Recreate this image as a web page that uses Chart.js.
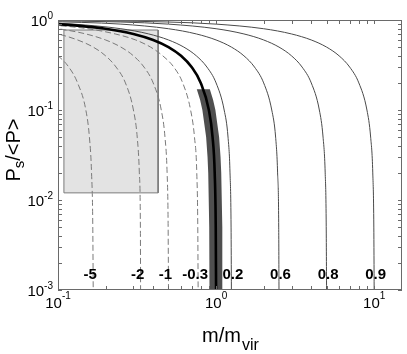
<!DOCTYPE html>
<html lang="en">
<head>
    <meta charset="UTF-8">
    <title>Ps/&lt;P&gt; vs m/mvir</title>
    <script src="https://cdn.jsdelivr.net/npm/chart.js"></script>
    <style>
        body {
            margin: 0;
            background: #fff;
        }
        #wrap {
            width: 407px;
            height: 354px;
        }
    </style>
</head>
<body>
    <div id="wrap"><canvas id="massChart" width="407" height="354"></canvas></div>

    <script>
        // curve labels, left to right
        const curveLabels = ['-5', '-2', '-1', '-0.3', '0.2', '0.6', '0.8', '0.9'];

        // points: [m/mvir, Ps/<P>]
        const curveM5  = [[0.08, 0.52], [0.1, 0.4], [0.117, 0.3], [0.133, 0.2], [0.15, 0.1], [0.158, 0.05], [0.163, 0.02], [0.166, 0.005], [0.167, 0.001]];
        const curveM2  = [[0.08, 0.76], [0.1, 0.7], [0.133, 0.6], [0.167, 0.5], [0.2, 0.4], [0.233, 0.3], [0.267, 0.2], [0.3, 0.1], [0.317, 0.05], [0.327, 0.02], [0.332, 0.005], [0.333, 0.001]];
        const curveM1  = [[0.08, 0.84], [0.1, 0.8], [0.15, 0.7], [0.2, 0.6], [0.25, 0.5], [0.3, 0.4], [0.35, 0.3], [0.4, 0.2], [0.45, 0.1], [0.475, 0.05], [0.49, 0.02], [0.497, 0.006], [0.5, 0.001]];
        const curveM03 = [[0.08, 0.9], [0.154, 0.8], [0.23, 0.7], [0.31, 0.6], [0.385, 0.5], [0.46, 0.4], [0.54, 0.3], [0.615, 0.2], [0.69, 0.1], [0.73, 0.05], [0.755, 0.02], [0.766, 0.005], [0.77, 0.001]];
        const curveP02 = [[0.08, 0.936], [0.125, 0.9], [0.25, 0.8], [0.375, 0.7], [0.5, 0.6], [0.625, 0.5], [0.75, 0.4], [0.875, 0.3], [1.0, 0.2], [1.125, 0.1], [1.19, 0.05], [1.225, 0.02], [1.244, 0.005], [1.25, 0.001]];
        const curveP06 = [[0.08, 0.968], [0.25, 0.9], [0.5, 0.8], [0.75, 0.7], [1.0, 0.6], [1.25, 0.5], [1.5, 0.4], [1.75, 0.3], [2.0, 0.2], [2.25, 0.1], [2.38, 0.05], [2.45, 0.02], [2.49, 0.005], [2.5, 0.001]];
        const curveP08 = [[0.08, 0.984], [0.25, 0.95], [0.5, 0.9], [1.0, 0.8], [1.5, 0.7], [2.0, 0.6], [2.5, 0.5], [3.0, 0.4], [3.5, 0.3], [4.0, 0.2], [4.5, 0.1], [4.75, 0.05], [4.9, 0.02], [4.97, 0.006], [5.0, 0.001]];
        const curveP09 = [[0.08, 0.992], [0.5, 0.95], [1.0, 0.9], [2.0, 0.8], [3.0, 0.7], [4.0, 0.6], [5.0, 0.5], [6.0, 0.4], [7.0, 0.3], [8.0, 0.2], [9.0, 0.1], [9.5, 0.05], [9.8, 0.02], [9.95, 0.005], [10.0, 0.001]];
        const fiducial = [[0.08, 0.92], [0.1, 0.9], [0.2, 0.8], [0.3, 0.7], [0.4, 0.6], [0.5, 0.5], [0.6, 0.4], [0.7, 0.3], [0.8, 0.2], [0.9, 0.1], [0.95, 0.05], [0.98, 0.02], [0.995, 0.005], [1.0, 0.001]];

        // dark band edges (top to bottom)
        const bandLeft  = [[0.755, 0.17], [0.792, 0.13], [0.819, 0.1], [0.865, 0.05], [0.883, 0.03], [0.892, 0.02], [0.905, 0.005], [0.91, 0.0005]];
        const bandRight = [[0.913, 0.17], [0.957, 0.13], [0.99, 0.1], [1.045, 0.05], [1.067, 0.03], [1.078, 0.02], [1.095, 0.005], [1.1, 0.0005]];

        // shaded box
        const boxX = [0.109, 0.43];
        const boxY = [0.012, 0.774];

        // axis ticks
        const xTicks = [0.1, 1, 10];
        const xTickExp = ['-1', '0', '1'];
        const yTicks = [0.001, 0.01, 0.1, 1];
        const yTickExp = ['-3', '-2', '-1', '0'];

        const dashedCurves = [curveM5, curveM2, curveM1, curveM03];
        const solidCurves = [curveP02, curveP06, curveP08, curveP09];
        const allCurves = dashedCurves.concat(solidCurves);

        const FONT = '"Liberation Sans", Arial, sans-serif';
        const toXY = arr => arr.map(p => ({ x: p[0], y: p[1] }));

        const band = bandLeft.concat(bandRight.slice().reverse());
        const box = [[boxX[0], boxY[0]], [boxX[0], boxY[1]], [boxX[1], boxY[1]], [boxX[1], boxY[0]], [boxX[0], boxY[0]]];

        const datasets = [];
        datasets.push({ data: toXY(fiducial), borderColor: '#000', borderWidth: 2.6, cubicInterpolationMode: 'monotone' });
        solidCurves.forEach(c => datasets.push({ data: toXY(c), borderColor: '#4a4a4a', borderWidth: 1, cubicInterpolationMode: 'monotone' }));
        dashedCurves.forEach(c => datasets.push({ data: toXY(c), borderColor: '#7a7a7a', borderWidth: 1, borderDash: [6, 3], cubicInterpolationMode: 'monotone' }));
        datasets.push({ data: toXY(band), borderWidth: 0, borderColor: 'rgba(0,0,0,0)', backgroundColor: '#4f4f4f', fill: 'shape', tension: 0 });
        datasets.push({ data: toXY(box), borderWidth: 1, borderColor: '#7a7a7a', backgroundColor: '#e3e3e3', fill: 'shape', tension: 0 });

        // drawing the MATLAB-style box, inward ticks and labels
        const axesDecor = {
            id: 'axesDecor',
            afterDatasetsDraw(chart) {
                const { ctx, chartArea: a, scales: { x, y } } = chart;
                ctx.save();

                ctx.strokeStyle = '#6a6a6a';
                ctx.lineWidth = 1;
                ctx.strokeRect(a.left + 0.5, a.top + 0.5, a.right - a.left - 1, a.bottom - a.top - 1);

                const tl = 4;
                ctx.beginPath();
                xTicks.forEach(d => {
                    for (let k = 1; k <= 9; k++) {
                        const v = k * d;
                        if (v > x.max) break;
                        const px = Math.round(x.getPixelForValue(v)) + 0.5;
                        ctx.moveTo(px, a.bottom); ctx.lineTo(px, a.bottom - tl);
                        ctx.moveTo(px, a.top); ctx.lineTo(px, a.top + tl);
                    }
                });
                yTicks.forEach(d => {
                    for (let k = 1; k <= 9; k++) {
                        const v = k * d;
                        if (v > y.max + 1e-9) break;
                        const py = Math.round(y.getPixelForValue(v)) + 0.5;
                        ctx.moveTo(a.left, py); ctx.lineTo(a.left + tl, py);
                        ctx.moveTo(a.right, py); ctx.lineTo(a.right - tl, py);
                    }
                });
                ctx.stroke();

                ctx.fillStyle = '#000';
                ctx.textBaseline = 'alphabetic';
                ctx.textAlign = 'left';

                // x tick labels
                xTicks.forEach((v, i) => {
                    const px = x.getPixelForValue(v);
                    ctx.font = '15px ' + FONT;
                    const wb = ctx.measureText('10').width;
                    ctx.font = '10px ' + FONT;
                    const we = ctx.measureText(xTickExp[i]).width;
                    const start = px - (wb + we) / 2;
                    ctx.font = '15px ' + FONT;
                    ctx.fillText('10', start, a.bottom + 18);
                    ctx.font = '10px ' + FONT;
                    ctx.fillText(xTickExp[i], start + wb, a.bottom + 9);
                });

                // y tick labels
                yTicks.forEach((v, i) => {
                    const py = y.getPixelForValue(v);
                    ctx.font = '15px ' + FONT;
                    const wb = ctx.measureText('10').width;
                    ctx.font = '10px ' + FONT;
                    const we = ctx.measureText(yTickExp[i]).width;
                    const start = a.left - 5 - (wb + we);
                    ctx.font = '15px ' + FONT;
                    ctx.fillText('10', start, py + 6);
                    ctx.font = '10px ' + FONT;
                    ctx.fillText(yTickExp[i], start + wb, py - 1);
                });

                // curve labels near the bottom
                ctx.font = 'bold 15px ' + FONT;
                ctx.textAlign = 'center';
                ctx.textBaseline = 'middle';
                allCurves.forEach((c, i) => {
                    const lab = curveLabels[i];
                    const px = x.getPixelForValue(c[c.length - 1][0]) + (lab.startsWith('-') ? -3 : 1.5);
                    ctx.fillText(lab, px, a.bottom - 15);
                });

                // x title m/m_vir
                ctx.textAlign = 'left';
                ctx.textBaseline = 'alphabetic';
                ctx.font = '20px ' + FONT;
                const wm = ctx.measureText('m/m').width;
                ctx.font = '16px ' + FONT;
                const wv = ctx.measureText('vir').width;
                const sx = (a.left + a.right) / 2 - (wm + wv) / 2;
                ctx.font = '20px ' + FONT;
                ctx.fillText('m/m', sx, 342);
                ctx.font = '16px ' + FONT;
                ctx.fillText('vir', sx + wm + 1, 350);

                // y title P_s/<P>
                ctx.font = '20px ' + FONT;
                const wp = ctx.measureText('P').width;
                const wr = ctx.measureText('/<P>').width;
                ctx.font = '15px ' + FONT;
                const ws = ctx.measureText('s').width;
                const total = wp + ws + wr;
                ctx.translate(20, 150 + total / 2);
                ctx.rotate(-Math.PI / 2);
                ctx.font = '20px ' + FONT;
                ctx.fillText('P', 0, 0);
                ctx.font = '15px ' + FONT;
                ctx.fillText('s', wp, 4);
                ctx.font = '20px ' + FONT;
                ctx.fillText('/<P>', wp + ws, 0);

                ctx.restore();
            }
        };

        const chart = document.getElementById('massChart').getContext('2d');
        new Chart(chart, {
            type: 'line',
            data: { datasets: datasets },
            options: {
                responsive: false,
                animation: false,
                layout: { padding: { top: 20, right: 5, left: 0, bottom: 0 } },
                elements: { point: { radius: 0, hoverRadius: 0 } },
                plugins: { legend: { display: false }, tooltip: { enabled: false } },
                scales: {
                    x: {
                        type: 'logarithmic',
                        min: 0.1,
                        max: 15,
                        ticks: { display: false },
                        grid: { display: false },
                        border: { display: false },
                        afterFit: s => { s.height = 64; }
                    },
                    y: {
                        type: 'logarithmic',
                        min: 0.001,
                        max: 1,
                        ticks: { display: false },
                        grid: { display: false },
                        border: { display: false },
                        afterFit: s => { s.width = 58; }
                    }
                }
            },
            plugins: [axesDecor]
        });
    </script>
</body>
</html>
